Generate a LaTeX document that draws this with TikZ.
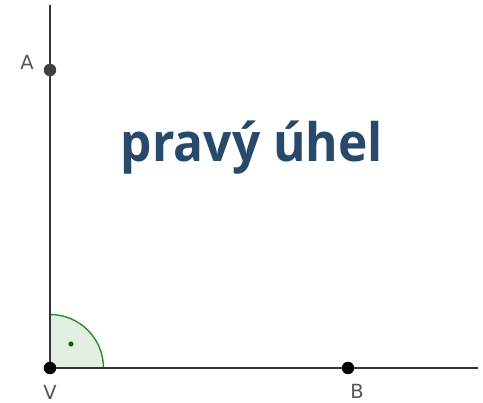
\documentclass[tikz,border=0pt]{standalone}
\usepackage{fontspec}
\setmainfont{DejaVu Sans}
\newfontfamily\titlefont{Open Sans}
\definecolor{titleblue}{HTML}{274A6A}
\definecolor{arcgreen}{HTML}{2E8B2E}
\definecolor{arcfill}{HTML}{E3EFE3}
\definecolor{dotgreen}{HTML}{007000}
\definecolor{lblgray}{HTML}{555555}
\definecolor{linegray}{HTML}{333333}
\begin{document}
\begin{tikzpicture}[x=1pt,y=-1pt,
  axis/.style={draw=linegray,line width=1.7pt},
  pt/.style={circle,inner sep=0pt,minimum size=12.5pt,fill=black},
  lbl/.style={text=lblgray,font=\fontsize{19.5}{19.5}\selectfont,inner sep=0pt,anchor=base}]
\useasboundingbox (0,0) rectangle (483,403);
\coordinate (V) at (50,368);
\coordinate (top) at (50,5);
\coordinate (right) at (478,368);
\fill[arcfill] (V) -- ++(53.5,0) arc[start angle=0,end angle=-90,radius=53.5] -- cycle;
\draw[arcgreen,line width=1.4pt] (V) ++(53.5,0) arc[start angle=0,end angle=-90,radius=53.5];
\fill[dotgreen] (71,344) circle (2.6);
\draw[axis] (top) -- (V) -- (right);
\node[pt,fill=black!75] (A) at (50,70) {};
\node[pt] (Vp) at (V) {};
\node[pt] (B) at (348,368) {};
\node[lbl] (lA) at (27,70) {A};
\node[lbl] (lV) at (50,399.5) {V};
\node[lbl] (lB) at (357,399) {B};
\node[anchor=base,text=titleblue,inner sep=0pt,font=\titlefont\bfseries\fontsize{53}{53}\selectfont] (title) at (252,162) {\resizebox{262pt}{\height}{pravý úhel}};
\end{tikzpicture}
\end{document}
